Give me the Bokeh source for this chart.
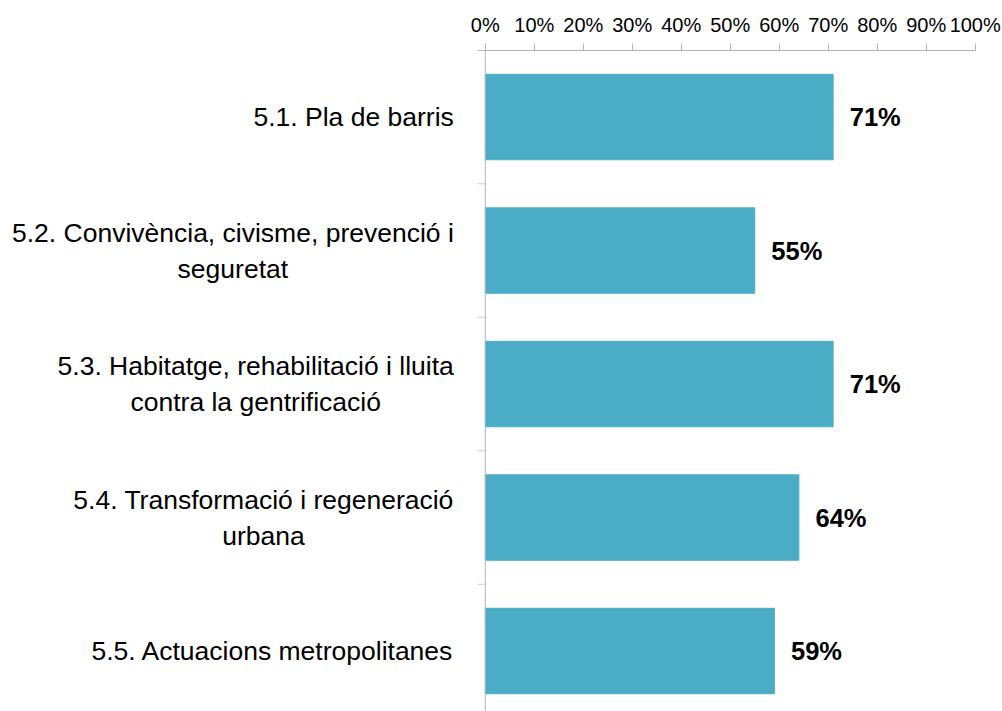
import numpy as np
from bokeh.plotting import figure
from bokeh.models import Range1d, LinearAxis, FixedTicker, Span
from bokeh.core.properties import value
from bokeh.embed import file_html
from bokeh.resources import INLINE

# ---- data ----
categories = [
    "5.1. Pla de barris",
    "5.2. Convivència, civisme, prevenció i\nseguretat",
    "5.3. Habitatge, rehabilitació i lluita\ncontra la gentrificació",
    "5.4. Transformació i regeneració\nurbana",
    "5.5. Actuacions metropolitanes",
]
values = [71, 55, 71, 64, 59]
value_labels = ["71%", "55%", "71%", "64%", "59%"]
tick_values = [0, 10, 20, 30, 40, 50, 60, 70, 80, 90, 100]
tick_labels = ["0%", "10%", "20%", "30%", "40%", "50%", "60%", "70%", "80%", "90%", "100%"]

# ---- layout ----
FONT = "Liberation Sans"
BAR = "#4BACC6"
AXIS = "#b3b3b3"
PX = 4.899  # screen px per percent

idx = np.arange(len(categories))

p = figure(
    width=1002, height=711,
    x_range=Range1d(-98.96, 105.57),
    y_range=Range1d(4.453, -0.4985),
    output_backend="svg", toolbar_location=None,
    x_axis_location=None, y_axis_location=None,
    min_border_left=0, min_border_right=0, min_border_top=50, min_border_bottom=0,
)
p.outline_line_color = None
p.background_fill_color = "white"
p.border_fill_color = "white"
p.grid.visible = False

ax = LinearAxis(
    ticker=FixedTicker(ticks=tick_values),
    bounds=(-8 / PX, 100),
    major_label_overrides={v: l for v, l in zip(tick_values, tick_labels)},
    axis_line_color=AXIS,
    major_tick_line_color=AXIS,
    major_tick_out=7, major_tick_in=0,
    minor_tick_out=0, minor_tick_in=0,
    major_label_text_font=FONT,
    major_label_text_font_size="20px",
    major_label_text_color="#000000",
    major_label_standoff=8,
)
p.add_layout(ax, "above")

# vertical category axis at 0
p.add_layout(Span(location=0, dimension="height", line_color=AXIS, line_width=1))
bounds_y = np.arange(len(categories) + 1) - 0.5
p.segment(x0=-8 / PX, x1=0, y0=bounds_y, y1=bounds_y, line_color="#d0d0d0", line_width=1)

p.hbar(y=idx, left=0, right=values, height=0.64, fill_color=BAR, line_color=BAR)

p.text(x=values, y=idx, text=value_labels, x_offset=16.6,
       text_align="left", text_baseline="middle",
       text_font=value(FONT), text_font_style="bold", text_font_size="25.5px",
       text_color="#000000")

p.text(x=[0] * len(categories), y=idx, text=categories, x_offset=-31.5,
       anchor=value("center_right"), text_align="center", text_baseline="middle",
       text_font=value(FONT), text_font_size="26.5px", text_color="#000000",
       text_line_height=1.2)

open("out.html", "w").write(file_html(p, INLINE))
